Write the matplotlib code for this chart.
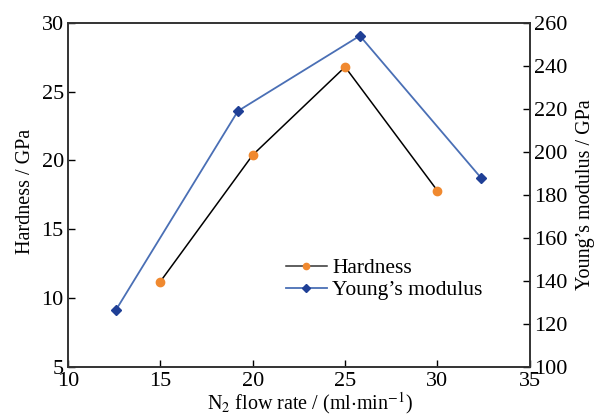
import matplotlib.pyplot as plt
from matplotlib.lines import Line2D

plt.rcParams['font.family'] = ['Liberation Serif', 'DejaVu Serif']
plt.rcParams['mathtext.fontset'] = 'stix'

# hardness vs N2 flow rate
flow_h = [15, 20, 25, 30]
hardness = [11.2, 20.4, 26.8, 17.8]

# Young's modulus (plotted on the twin axis)
flow_e = [12.6, 19.2, 25.8, 32.35]
modulus = [126.5, 219, 254, 188]

fig = plt.figure(figsize=(5.96, 4.16), dpi=100)
ax = fig.add_axes([0.114, 0.118, 0.775, 0.827])
ax2 = ax.twinx()

ax.plot(flow_h, hardness, color='black', lw=1.1, zorder=2)
ax.plot(flow_h, hardness, 'o', color='#f0892f', ms=6, zorder=3)
ax2.plot(flow_e, modulus, color='#4a6fb5', lw=1.3, zorder=2)
ax2.plot(flow_e, modulus, 'D', color='#1f3f96', ms=5.5, zorder=3)

ax.set_xlim(10, 35)
ax.set_ylim(5, 30)
ax2.set_ylim(100, 260)
ax.set_xticks([10, 15, 20, 25, 30, 35])
ax.set_yticks([5, 10, 15, 20, 25, 30])
ax2.set_yticks(range(100, 261, 20))

ax.tick_params(direction='in', labelsize=16, length=5, width=1, pad=3)
ax.tick_params(axis='x', pad=4)
ax2.tick_params(direction='in', labelsize=16, length=5, width=1, pad=3)
for a in (ax, ax2):
    for s in a.spines.values():
        s.set_linewidth(1.2)
        s.set_color('#333333')

ax.set_xlabel(r'N$_2$ flow rate / (ml$\cdot$min$^{-1}$)', fontsize=14.5)
ax.xaxis.set_label_coords(0.525, -0.068)
ax.set_ylabel('Hardness / GPa', fontsize=14.5)
ax.yaxis.set_label_coords(-0.072, 0.51)
ax2.set_ylabel('Young\u2019s modulus / GPa', fontsize=14.5)
ax2.yaxis.set_label_coords(1.1, 0.5)

handles = [
    Line2D([], [], color='#333333', lw=1.1, marker='o', mfc='#f0892f', mec='#f0892f', ms=4.5),
    Line2D([], [], color='#4a6fb5', lw=1.3, marker='D', mfc='#1f3f96', mec='#1f3f96', ms=4),
]
ax2.legend(handles, ['Hardness', 'Young\u2019s modulus'], loc='center left',
           bbox_to_anchor=(0.43, 0.255), frameon=False, fontsize=15.5,
           handlelength=1.9, handletextpad=0.25, labelspacing=0.1)

fig.savefig('out.png', dpi=100)
